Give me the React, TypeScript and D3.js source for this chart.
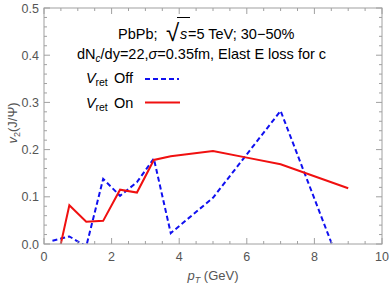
import React from 'react';
import * as d3 from 'd3';

// ==== data

const ptOff = [0.25, 0.75, 1.25, 1.75, 2.25, 2.75, 3.25, 3.75, 5, 7, 9];
const v2Off = [0.007, 0.016, -0.005, 0.138, 0.102, 0.131, 0.181, 0.023, 0.098, 0.282, -0.09];

const ptOn = [0.25, 0.75, 1.25, 1.75, 2.25, 2.75, 3.25, 3.75, 5, 6, 7, 9];
const v2On = [-0.08, 0.082, 0.047, 0.049, 0.115, 0.109, 0.178, 0.186, 0.197, 0.183, 0.169, 0.118];

const xTicks = [0, 2, 4, 6, 8, 10];
const yTicks = [0.0, 0.1, 0.2, 0.3, 0.4, 0.5];

// ====

const W = 390;
const H = 286;
const frame = { left: 44, right: 382, top: 8, bottom: 244 };
const font = '"Liberation Sans", Arial, sans-serif';
const frameColor = '#a0a0a0';
const labelColor = '#555';

const App = () => {
    const x = d3.scaleLinear().domain([0, 10]).range([frame.left, frame.right]);
    const y = d3.scaleLinear().domain([0, 0.5]).range([frame.bottom, frame.top]);

    const line = d3.line<[number, number]>()
        .x((d) => x(d[0]))
        .y((d) => y(d[1]));

    const offPts = ptOff.map((p, i) => [p, v2Off[i]] as [number, number]);
    const onPts = ptOn.map((p, i) => [p, v2On[i]] as [number, number]);

    const xMinor = d3.range(0, 10.001, 0.5);
    const yMinor = d3.range(0, 0.5001, 0.02);

    const ticks: JSX.Element[] = [];
    xMinor.forEach((t, i) => {
        const major = Math.abs(t - Math.round(t / 2) * 2) < 1e-6;
        const len = major ? 6 : 3;
        ticks.push(<line key={'xb' + i} x1={x(t)} x2={x(t)} y1={frame.bottom} y2={frame.bottom - len} />);
        ticks.push(<line key={'xt' + i} x1={x(t)} x2={x(t)} y1={frame.top} y2={frame.top + len} />);
    });
    yMinor.forEach((t, i) => {
        const major = Math.abs(t * 10 - Math.round(t * 10)) < 1e-6;
        const len = major ? 6 : 3;
        ticks.push(<line key={'yl' + i} x1={frame.left} x2={frame.left + len} y1={y(t)} y2={y(t)} />);
        ticks.push(<line key={'yr' + i} x1={frame.right} x2={frame.right - len} y1={y(t)} y2={y(t)} />);
    });

    return (
        <svg width={W} height={H} style={{ position: 'absolute', left: 0, top: 0, background: '#fff' }}
            fontFamily={font}>
            <defs>
                <clipPath id="plotClip">
                    <rect x={frame.left} y={frame.top} width={frame.right - frame.left} height={frame.bottom - frame.top} />
                </clipPath>
            </defs>

            <g clipPath="url(#plotClip)" fill="none" strokeWidth={2}>
                <path d={line(offPts) || ''} stroke="#1010f0" strokeDasharray="5,3" />
                <path d={line(onPts) || ''} stroke="#f01010" />
            </g>

            <rect x={frame.left} y={frame.top} width={frame.right - frame.left} height={frame.bottom - frame.top}
                fill="none" stroke={frameColor} strokeWidth={1} />
            <g stroke={frameColor} strokeWidth={1}>{ticks}</g>

            <g fill={labelColor} fontSize={12.5}>
                {xTicks.map((t) => (
                    <text key={t} x={x(t)} y={261} textAnchor="middle">{t}</text>
                ))}
                {yTicks.map((t) => (
                    <text key={t} x={39} y={y(t) + 4.5} textAnchor="end">{t.toFixed(1)}</text>
                ))}
            </g>

            <text x={213} y={280} textAnchor="middle" fill={labelColor} fontSize={13}>
                <tspan fontStyle="italic">p</tspan>
                <tspan fontStyle="italic" fontSize={9} dy={3}>T</tspan>
                <tspan dy={-3}> (GeV)</tspan>
            </text>

            <text transform="translate(17,123) rotate(-90)" textAnchor="middle" fill={labelColor} fontSize={13}>
                <tspan fontStyle="italic">v</tspan>
                <tspan fontSize={9} dy={3}>2</tspan>
                <tspan dy={-3}>(J/Ψ)</tspan>
            </text>

            <g fill="#000" fontSize={14.5}>
                <text x={118} y={38.5}>PbPb;</text>
                <text x={166} y={41} fontSize={24} fontWeight={300}>√</text>
                <text x={180} y={38.5} fontStyle="italic">s</text>
                <text x={188} y={38.5}>=5 TeV; 30−50%</text>
                <text x={77} y={59}>
                    dN<tspan fontStyle="italic" fontSize={10} dy={3}>c</tspan><tspan dy={-3}>/dy=22,</tspan><tspan fontStyle="italic">σ</tspan>=0.35fm, Elast E loss for c
                </text>
            </g>
            <g fill="#000" fontSize={14.5}>
                <text x={86} y={83} fontStyle="italic">V</text>
                <text x={95.5} y={86} fontSize={10.5}>ret</text>
                <text x={114} y={83}>Off</text>
                <text x={86} y={107.5} fontStyle="italic">V</text>
                <text x={95.5} y={110.5} fontSize={10.5}>ret</text>
                <text x={114} y={107.5}>On</text>
            </g>
            <line x1={177} x2={190} y1={17.5} y2={17.5} stroke="#000" strokeWidth={1} />
            <line x1={145} x2={179} y1={79} y2={79} stroke="#1010f0" strokeWidth={2} strokeDasharray="5,3" />
            <line x1={145} x2={180} y1={102.5} y2={102.5} stroke="#f01010" strokeWidth={2} />
        </svg>
    );
};

export default App;
